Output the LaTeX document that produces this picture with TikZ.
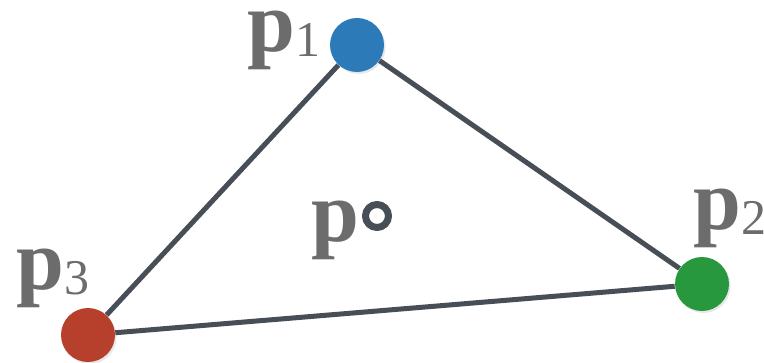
\documentclass[tikz,border=0pt]{standalone}
\usepackage{fontspec}
\setmainfont{Liberation Serif}
\usepackage{xcolor}
\usetikzlibrary{shadows}

\definecolor{pblue}{RGB}{45,122,184}
\definecolor{pgreen}{RGB}{40,152,62}
\definecolor{pred}{RGB}{183,64,44}
\definecolor{edgegray}{RGB}{72,78,86}
\definecolor{labgray}{RGB}{108,108,108}

% label: bold p with a plain, slightly lowered index
\newcommand{\plab}[1]{\textbf{p}\raisebox{-2.5pt}{\fontsize{25}{25}\selectfont #1}}

\begin{document}
\begin{tikzpicture}[x=0.5pt, y=-0.5pt, line join=round,
  vert/.style={circle, inner sep=0pt, minimum size=27pt,
    drop shadow={opacity=0.18, shadow xshift=0.8pt, shadow yshift=-1pt}},
  lbl/.style={anchor=base west, inner sep=0pt, text=labgray,
    text height=20pt, text depth=9pt,
    font=\fontsize{43}{43}\selectfont}]
  \useasboundingbox (0,0) rectangle (764,363);
  \node[vert, fill=pblue] (p1) at (357,45) {};
  \node[vert, fill=pgreen] (p2) at (702,284) {};
  \node[vert, fill=pred] (p3) at (88,335) {};
  \draw[line width=2.5pt, edgegray] (p1) -- (p2) -- (p3) -- (p1);
  \node[circle, draw=edgegray, line width=3.5pt, inner sep=0pt,
    minimum size=11.5pt] (p) at (377,216) {};
  \node[lbl] (l1) at (247,52) {\plab{1}};
  \node[lbl] (l2) at (693,229) {\plab{2}};
  \node[lbl] (l3) at (16,289) {\plab{3}};
  \node[lbl] (lp) at (311,241) {\textbf{p}};
\end{tikzpicture}
\end{document}
